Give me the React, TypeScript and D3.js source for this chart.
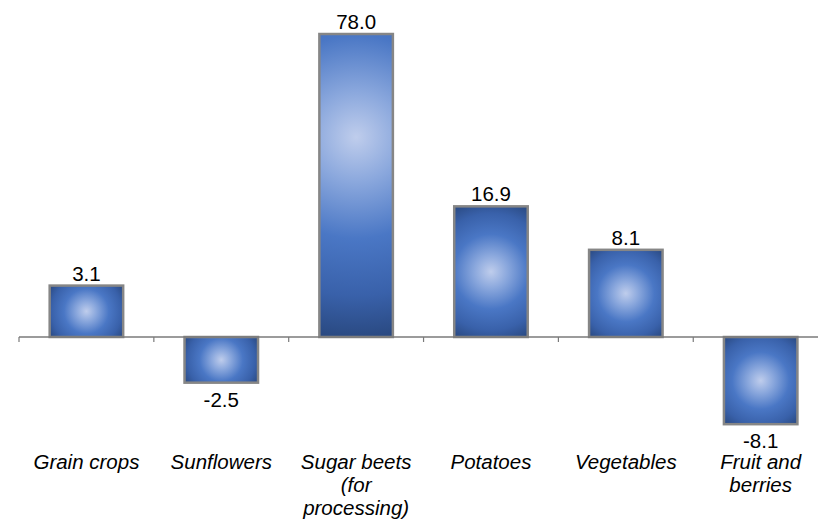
import React from "react";
import * as d3 from "d3";

const categories = [
  "Grain crops",
  "Sunflowers",
  "Sugar beets\n(for\nprocessing)",
  "Potatoes",
  "Vegetables",
  "Fruit and\nberries",
];
const values = [3.1, -2.5, 78.0, 16.9, 8.1, -8.1];

const W = 818;
const H = 522;
const baseY = 337;
const x0 = 19;
const step = 134.85;

export default function App() {
  const x = d3
    .scaleBand<string>()
    .domain(categories)
    .range([x0, x0 + step * categories.length])
    .padding(0);
  const maxV = d3.max(values, (v) => Math.abs(v)) as number;
  const y = d3
    .scalePow()
    .exponent(0.55)
    .domain([-maxV, maxV])
    .range([baseY + 303, baseY - 303]);
  const barW = x.bandwidth() * 0.545;
  const font = "'Liberation Sans', Arial, sans-serif";

  const boundaries = categories.map((c) => x(c) as number);

  const bars = values.map((v, i) => {
    const c = categories[i];
    const cx = (x(c) as number) + x.bandwidth() / 2;
    const top = Math.min(y(v), baseY);
    const h = Math.abs(y(v) - baseY);
    const gy = top + (h > 200 ? 0.34 * h : 0.5 * h);
    const far = Math.max(gy - top, top + h - gy);
    const R = Math.sqrt((barW / 2) ** 2 + far ** 2);
    return { v, c, cx, top, h, gy, R };
  });

  return (
    <svg
      width={W}
      height={H}
      style={{ position: "absolute", left: 0, top: 0, display: "block" }}
    >
      <defs>
        {bars.map((b, i) => (
          <radialGradient
            key={i}
            id={`g${i}`}
            gradientUnits="userSpaceOnUse"
            cx={b.cx}
            cy={b.gy}
            r={b.R}
          >
            <stop offset="0" stopColor="#bfcdec" />
            <stop offset="0.22" stopColor="#8ba8dd" />
            <stop offset="0.5" stopColor="#4a77c5" />
            <stop offset="0.78" stopColor="#3961aa" />
            <stop offset="1" stopColor="#29487f" />
          </radialGradient>
        ))}
      </defs>
      {bars.map((b, i) => (
        <rect
          key={i}
          x={b.cx - barW / 2}
          y={b.top}
          width={barW}
          height={b.h}
          fill={`url(#g${i})`}
          stroke="#868686"
          strokeWidth={2.5}
        />
      ))}
      <line
        x1={x0}
        x2={W}
        y1={baseY}
        y2={baseY}
        stroke="#7a7a7a"
        strokeWidth={1.5}
      />
      {boundaries.map((bx, i) => (
        <line
          key={i}
          x1={bx}
          x2={bx}
          y1={baseY}
          y2={baseY + 5}
          stroke="#7a7a7a"
          strokeWidth={1.2}
        />
      ))}
      {bars.map((b, i) => (
        <text
          key={i}
          x={b.cx}
          y={b.v >= 0 ? y(b.v) - 5 : y(b.v) + 24}
          textAnchor="middle"
          fontFamily={font}
          fontSize={20.5}
          fill="#000"
        >
          {b.v.toFixed(1)}
        </text>
      ))}
      {categories.map((c, i) => {
        const cx = (x(c) as number) + x.bandwidth() / 2;
        return (
          <text
            key={i}
            x={cx}
            y={469}
            textAnchor="middle"
            fontFamily={font}
            fontSize={20.5}
            fontStyle="italic"
            fill="#000"
          >
            {c.split("\n").map((line, j) => (
              <tspan key={j} x={cx} dy={j === 0 ? 0 : 23}>
                {line}
              </tspan>
            ))}
          </text>
        );
      })}
    </svg>
  );
}
